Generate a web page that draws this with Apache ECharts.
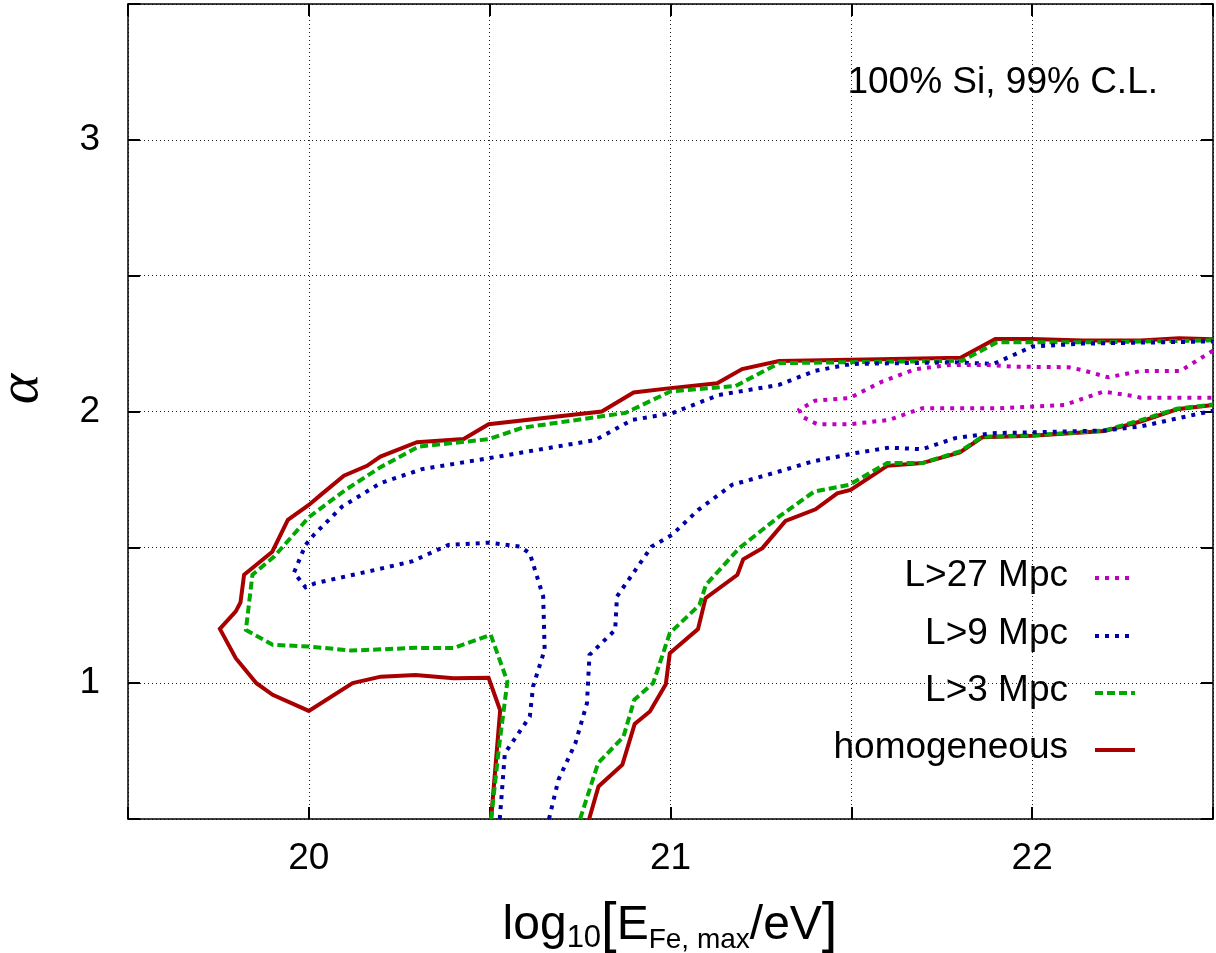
<!DOCTYPE html>
<html>
<head>
<meta charset="utf-8">
<script src="https://cdn.jsdelivr.net/npm/echarts@6/dist/echarts.min.js"></script>
<style>html,body{margin:0;padding:0;background:#fff;}#c{width:1216px;height:953px;}</style>
</head>
<body>
<div id="c"></div>
<script>
// ---- data ----
var xTickLabels = ['20', '21', '22'];
var yTickLabels = ['1', '2', '3'];
var seriesNames = ['L>27 Mpc', 'L>9 Mpc', 'L>3 Mpc', 'homogeneous'];

var homOuter = [[20.504,0.5],[20.529,0.90],[20.497,1.02],[20.40,1.018],[20.295,1.03],[20.199,1.024],[20.121,1.0],[20.0,0.898],[19.90,0.957],[19.855,1.0],[19.798,1.092],[19.754,1.2],[19.798,1.264],[19.811,1.297],[19.821,1.399],[19.899,1.484],[19.942,1.601],[20.0,1.656],[20.033,1.693],[20.097,1.764],[20.161,1.80],[20.198,1.834],[20.299,1.887],[20.428,1.899],[20.497,1.953],[20.81,2.0],[20.898,2.07],[21.0,2.086],[21.129,2.104],[21.198,2.156],[21.3,2.186],[21.577,2.192],[21.802,2.198],[21.898,2.267],[22.0,2.267],[22.14,2.261],[22.30,2.261],[22.406,2.27],[22.5,2.266]];
var homLower = [[20.775,0.5],[20.801,0.62],[20.867,0.70],[20.901,0.85],[20.943,0.896],[20.987,0.996],[20.998,1.11],[21.076,1.199],[21.097,1.313],[21.185,1.399],[21.201,1.456],[21.254,1.497],[21.318,1.597],[21.401,1.64],[21.461,1.699],[21.498,1.711],[21.599,1.80],[21.696,1.81],[21.80,1.849],[21.862,1.905],[22.0,1.911],[22.20,1.928],[22.30,1.963],[22.40,2.008],[22.5,2.024]];

var l3Outer = [[20.504,0.5],[20.526,0.767],[20.549,1.006],[20.503,1.178],[20.40,1.129],[20.295,1.13],[20.117,1.12],[20.0,1.135],[19.90,1.141],[19.826,1.196],[19.844,1.399],[19.904,1.466],[20.0,1.611],[20.101,1.711],[20.198,1.795],[20.304,1.871],[20.497,1.898],[20.59,1.94],[20.876,1.995],[21.0,2.074],[21.18,2.094],[21.30,2.178],[21.807,2.187],[21.903,2.255],[22.2,2.255],[22.5,2.262]];
var l3Lower = [[20.75,0.5],[20.80,0.706],[20.87,0.803],[20.90,0.939],[20.952,1.0],[20.998,1.184],[21.08,1.288],[21.098,1.362],[21.19,1.497],[21.30,1.613],[21.397,1.705],[21.494,1.73],[21.599,1.81],[21.696,1.81],[21.80,1.853],[21.862,1.907],[22.0,1.912],[22.2,1.93],[22.3,1.968],[22.4,2.01],[22.5,2.026]];

var l9Outer = [[20.528,0.5],[20.542,0.742],[20.611,0.877],[20.62,0.988],[20.652,1.123],[20.648,1.319],[20.611,1.478],[20.583,1.503],[20.497,1.517],[20.386,1.509],[20.285,1.448],[20.184,1.417],[20.018,1.368],[19.991,1.353],[19.959,1.407],[19.991,1.509],[20.014,1.546],[20.092,1.65],[20.198,1.736],[20.313,1.788],[20.497,1.828],[20.792,1.895],[20.894,1.969],[21.005,1.994],[21.134,2.061],[21.30,2.098],[21.40,2.15],[21.50,2.175],[21.787,2.181],[21.893,2.175],[22.0,2.239],[22.14,2.25],[22.5,2.258]];
var l9Lower = [[20.664,0.5],[20.69,0.644],[20.737,0.779],[20.769,0.926],[20.776,1.104],[20.847,1.196],[20.852,1.319],[20.948,1.503],[21.004,1.546],[21.077,1.638],[21.17,1.73],[21.30,1.779],[21.392,1.816],[21.512,1.847],[21.604,1.867],[21.696,1.861],[21.787,1.902],[21.888,1.92],[22.2,1.93],[22.3,1.945],[22.5,2.003]];

var l27Loop = [[22.5,2.224],[22.455,2.187],[22.41,2.149],[22.30,2.149],[22.21,2.126],[22.137,2.153],[22.10,2.163],[21.953,2.165],[21.88,2.171],[21.77,2.171],[21.677,2.156],[21.585,2.11],[21.512,2.061],[21.494,2.049],[21.40,2.04],[21.356,2.006],[21.364,1.981],[21.406,1.953],[21.494,1.953],[21.604,1.969],[21.696,2.012],[21.908,2.012],[22.09,2.024],[22.197,2.073],[22.28,2.057],[22.30,2.051],[22.5,2.051]];

// ---- styles ----
var colors = {l27: '#c000c0', l9: '#0000a8', l3: '#00a800', hom: '#a80000'};
var FONT = 'Liberation Sans, Arial, sans-serif';

function lineSeries(name, data, color, type) {
  return {
    name: name, type: 'line', data: data, showSymbol: false, symbol: 'none',
    animation: false, clip: true, silent: true,
    lineStyle: {color: color, width: 4, type: type, cap: 'butt', join: 'miter'}
  };
}

function isLabel(list, v) {
  for (var i = 0; i < list.length; i++) { if (Math.abs(parseFloat(list[i]) - v) < 1e-6) return list[i]; }
  return '';
}

var chart = echarts.init(document.getElementById('c'), null, {renderer: 'canvas'});

var gridSplit = {show: true, lineStyle: {color: '#222', width: 1, type: [1, 3]}};
var tickStyle = {show: true, inside: true, length: 12, lineStyle: {color: '#000', width: 2}};
var lineAx = {show: true, lineStyle: {color: '#000', width: 1.5}};

var legendRows = [
  {name: seriesNames[0], color: colors.l27, type: [4, 6], y: 578},
  {name: seriesNames[1], color: colors.l9, type: [4, 6], y: 636},
  {name: seriesNames[2], color: colors.l3, type: [8, 4], y: 693},
  {name: seriesNames[3], color: colors.hom, type: 'solid', y: 750}
];
var graphics = [];
legendRows.forEach(function (r) {
  graphics.push({type: 'text', x: 1068, y: r.y - 2, silent: true,
    style: {text: r.name, font: '37px ' + FONT, fill: '#000', align: 'right', verticalAlign: 'middle'}});
  graphics.push({type: 'line', silent: true,
    shape: {x1: 1095, y1: r.y, x2: 1135, y2: r.y},
    style: {stroke: r.color, lineWidth: 4, lineDash: r.type === 'solid' ? null : r.type, lineCap: 'butt'}});
});
graphics.push({type: 'text', x: 1158, y: 83, silent: true,
  style: {text: '100% Si, 99% C.L.', font: '37px ' + FONT, fill: '#000', align: 'right', verticalAlign: 'middle'}});
graphics.push({type: 'text', x: 22, y: 389, rotation: Math.PI / 2, silent: true,
  style: {text: 'α', font: 'italic 58px Liberation Serif, serif', fill: '#000', align: 'center', verticalAlign: 'middle'}});
graphics.push({type: 'text', x: 670, y: 898, silent: true,
  style: {
    text: '{m|log}{s|10}{b|[}{m|E}{t|Fe, max}{m|/eV}{b|]}',
    align: 'center', verticalAlign: 'top', fill: '#000',
    rich: {
      m: {fontSize: 48, fontFamily: FONT, lineHeight: 56, color: '#000'},
      s: {fontSize: 31, fontFamily: FONT, lineHeight: 6, verticalAlign: 'bottom', color: '#000'},
      t: {fontSize: 28, fontFamily: FONT, lineHeight: 22, verticalAlign: 'bottom', color: '#000'},
      b: {fontSize: 56, fontFamily: FONT, lineHeight: 56, color: '#000'}
    }
  }});

chart.setOption({
  animation: false,
  backgroundColor: '#fff',
  grid: {left: 128, right: 3, top: 4, bottom: 134, containLabel: false},
  xAxis: [
    {type: 'value', position: 'bottom', min: 19.5, max: 22.5, interval: 0.5,
      axisLine: lineAx, axisTick: tickStyle, splitLine: gridSplit,
      axisLabel: {show: true, margin: 21, color: '#000', fontSize: 37, fontFamily: FONT,
        formatter: function (v) { return isLabel(xTickLabels, v); }}},
    {type: 'value', position: 'top', min: 19.5, max: 22.5, interval: 0.5,
      axisLine: lineAx, axisTick: tickStyle, splitLine: {show: false}, axisLabel: {show: false}}
  ],
  yAxis: [
    {type: 'value', position: 'left', min: 0.5, max: 3.5, interval: 0.5,
      axisLine: lineAx, axisTick: tickStyle, splitLine: gridSplit,
      axisLabel: {show: true, margin: 28, color: '#000', fontSize: 37, fontFamily: FONT,
        formatter: function (v) { return isLabel(yTickLabels, v); }}},
    {type: 'value', position: 'right', min: 0.5, max: 3.5, interval: 0.5,
      axisLine: lineAx, axisTick: tickStyle, splitLine: {show: false}, axisLabel: {show: false}}
  ],
  series: [
    lineSeries(seriesNames[3], homOuter, colors.hom, 'solid'),
    lineSeries(seriesNames[3], homLower, colors.hom, 'solid'),
    lineSeries(seriesNames[2], l3Outer, colors.l3, [8, 4]),
    lineSeries(seriesNames[2], l3Lower, colors.l3, [8, 4]),
    lineSeries(seriesNames[1], l9Outer, colors.l9, [4, 6]),
    lineSeries(seriesNames[1], l9Lower, colors.l9, [4, 6]),
    lineSeries(seriesNames[0], l27Loop, colors.l27, [4, 6])
  ],
  graphic: graphics
});
</script>
</body>
</html>
